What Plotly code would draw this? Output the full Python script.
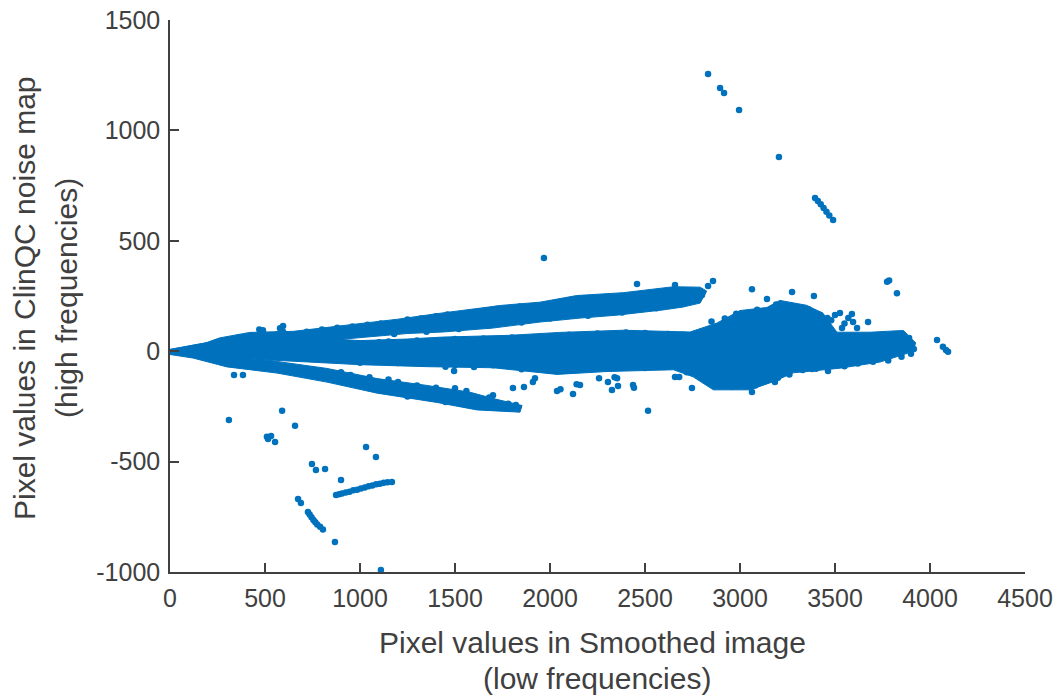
import plotly.graph_objects as go

BLUE = "#0072BD"
INK = "#404040"
FONT = "Liberation Sans"

x_ticks = [0, 500, 1000, 1500, 2000, 2500, 3000, 3500, 4000, 4500]
x_labels = ["0", "500", "1000", "1500", "2000", "2500", "3000", "3500", "4000", "4500"]
y_ticks = [-1000, -500, 0, 500, 1000, 1500]
y_labels = ["-1000", "-500", "0", "500", "1000", "1500"]

# Outlines of the solid clouds
upper_x = [0, 190, 260, 420, 650, 1000, 1200, 1405, 1600, 1750, 1947, 2140, 2385, 2650, 2790, 2825,
           2790, 2700, 2595, 2350, 2158, 1947, 1700, 1437, 1247, 1000, 650]
upper_y = [8, 38, 60, 85, 90, 125, 145, 170, 192, 208, 222, 252, 265, 292, 290, 272,
           218, 200, 187, 163, 150, 132, 105, 87, 80, 62, 35]

main_x = [0, 300, 650, 1000, 1247, 1437, 1790, 2050, 2385, 2737, 2880, 3000, 3142, 3210, 3350, 3437, 3510,
          3685, 3860, 3925, 3905, 3737, 3526, 3280, 3175, 3053, 2860, 2753, 2650, 2300, 2037, 1700,
          1352, 1000, 526, 0]
main_y = [8, 55, 65, 48, 55, 64, 72, 85, 95, 87, 128, 184, 198, 230, 208, 172, 86,
          86, 94, 37, -3, -49, -77, -98, -138, -175, -175, -116, -84, -92, -105, -75,
          -70, -61, -40, -8]

lower_x = [0, 300, 526, 826, 1090, 1352, 1580, 1700, 1853, 1842, 1616, 1405, 1090, 826, 563, 300, 121, 0]
lower_y = [0, -25, -42, -78, -124, -155, -186, -214, -246, -276, -266, -232, -190, -140, -99, -71, -31, -15]

# Individual points around the clouds
dots_x = [310, 590, 658, 510, 532, 516, 553, 747, 768, 816, 674, 689,
          726, 735, 745, 755, 765, 775, 790, 805, 868, 1110, 900, 1032, 1084,
          874, 890, 905, 925, 945, 965, 985, 1005, 1025, 1045, 1065, 1085, 1105, 1125, 1145, 1168,
          2832, 2895, 2916, 2995, 3205,
          3395, 3410, 3425, 3440, 3455, 3470, 3490,
          4037, 4068, 4084, 4095, 3826, 3774, 3785,
          2458, 2658, 2858, 2832, 3063, 3142, 3274, 3389,
          2516, 2037, 2055, 2121, 2158, 2140, 2326, 2358, 2437, 2442, 2305, 2258, 2353, 2340,
          2658, 2680, 2747, 3063, 3184, 3463, 3379,
          3526, 3500, 3589, 3595, 3537, 3674, 3570, 3616, 3550, 3480, 3460,
          489, 470, 595, 579, 595, 337, 384, 1805, 1863, 1921, 1910, 1495, 1968]
dots_y = [-312, -270, -338, -388, -384, -398, -411, -511, -538, -534, -669, -688,
          -728, -740, -752, -765, -775, -785, -795, -808, -864, -991, -583, -434, -479,
          -651, -648, -645, -640, -636, -630, -627, -622, -617, -612, -608, -603, -600, -596, -593, -592,
          1255, 1192, 1169, 1092, 879,
          694, 680, 665, 648, 632, 615, 594,
          51, 20, 5, -3, 263, 314, 320,
          304, 300, 318, 295, 281, 236, 268, 250,
          -270, -180, -172, -194, -153, -150, -176, -158, -153, -165, -140, -122, -122, -118,
          -117, -117, -167, -185, -139, -90, -81,
          173, 164, 168, 132, 105, 132, 150, 105, 125, 140, 150,
          95, 98, 114, 104, 88, -108, -108, -167, -162, -122, -140, -90, 422]

# Points that roughen the edges of the clouds
edge_x = [180, 240, 300, 360, 430, 500, 570, 640, 720, 800, 880, 960, 1040, 1110, 1180, 1250, 1320, 1400, 1460,
          1530, 1600, 1660, 1720, 1780, 1840, 1900, 1960, 2020, 2080, 2140, 2190, 2260, 2320, 2390, 2450,
          2520, 2580, 2630, 2680, 2730, 2770, 2800,
          1150, 1300, 1500, 1650, 1800, 1950, 2100, 2250, 2400, 2500, 2620, 2700,
          2850, 2920, 2980, 3040, 3090, 3150, 3190, 3240, 3300, 3360, 3420,
          3720, 3790, 3850, 3890, 3905, 3915, 3900, 3850, 3780, 3700, 3620, 3550, 3470, 3400, 3330, 3260, 3200,
          3140, 3080, 3020, 2960, 2900, 2830, 2790, 2720, 2600, 2500, 2400, 2180, 2000, 1850, 1750, 1600, 1450,
          1200, 1000, 1250, 1450, 1650, 1790, 1820, 1700, 1500, 1300, 1150, 950, 750,
          1180, 1350, 1520, 1680, 1850, 2000, 2200, 2380, 2560, 2680, 2760,
          900, 1050, 1200, 1400, 1560, 1680, 1780,
          600, 850, 1100, 1300, 1500, 1700, 1950, 2150, 2350, 2550, 2700]
edge_y = [22, 38, 46, 62, 72, 74, 78, 76, 88, 98, 106, 112, 120, 126, 128, 144, 148, 158, 166,
          166, 176, 186, 192, 188, 202, 202, 208, 205, 225, 232, 230, 238, 236, 242, 255,
          248, 265, 260, 260, 272, 266, 255,
          44, 48, 55, 58, 62, 68, 75, 80, 85, 82, 78, 75,
          135, 148, 170, 168, 188, 186, 212, 208, 192, 190, 165,
          72, 68, 76, 60, 30, 10, -12, -25, -42, -48, -56, -68, -66, -80, -85, -105, -120,
          -120, -155, -150, -160, -153, -140, -115, -95, -72, -76, -72, -80, -88, -82, -66, -72, -70,
          -54, -52, -205, -230, -245, -258, -244, -200, -168, -155, -128, -108, -84,
          78, 88, 100, 116, 130, 148, 160, 175, 195, 215, 232,
          -95, -118, -140, -165, -180, -210, -238,
          36, 52, 40, -52, -62, -64, -78, -82, -70, -68, -60]


def cloud(xs, ys):
    return go.Scatter(x=xs, y=ys, mode="lines", fill="toself", fillcolor=BLUE,
                      line=dict(color=BLUE, width=1), hoverinfo="skip", showlegend=False)


def points(xs, ys):
    return go.Scatter(x=xs, y=ys, mode="markers", cliponaxis=False, showlegend=False,
                      marker=dict(color=BLUE, size=6.5, line=dict(width=0)))


fig = go.Figure([cloud(upper_x, upper_y), cloud(main_x, main_y), cloud(lower_x, lower_y),
                 points(edge_x, edge_y), points(dots_x, dots_y)])

axis = dict(showgrid=False, zeroline=False, showline=True, linecolor=INK, linewidth=1.5,
            ticks="inside", ticklen=9, tickwidth=1.5, tickcolor=INK, mirror=False,
            tickfont=dict(family=FONT, size=25, color=INK))
fig.update_xaxes(range=[0, 4500], tickvals=x_ticks, ticktext=x_labels, ticklabelstandoff=3, **axis)
fig.update_yaxes(range=[-1000, 1500], tickvals=y_ticks, ticktext=y_labels, ticklabelstandoff=3, **axis)


def label(text, x, y, angle=0):
    fig.add_annotation(text=text, x=x, y=y, xref="paper", yref="paper", showarrow=False, textangle=angle,
                       xanchor="center", yanchor="middle", font=dict(family=FONT, size=30, color=INK))


W, H = 855, 552
label("Pixel values in Smoothed image", (592 - 170) / W, (572 - 642) / H)
label("(low frequencies)", (597 - 170) / W, (572 - 678) / H)
label("Pixel values in ClinQC noise map", (24 - 170) / W, (572 - 298) / H, -90)
label("(high frequencies)", (66 - 170) / W, (572 - 298) / H, -90)

fig.update_layout(width=1054, height=697, margin=dict(l=170, r=29, t=20, b=125, autoexpand=False),
                  plot_bgcolor="white", paper_bgcolor="white", showlegend=False)
fig.write_html("out.html", config={"displayModeBar": False},
               post_script="document.body.style.margin='0';document.body.style.overflow='hidden';")
